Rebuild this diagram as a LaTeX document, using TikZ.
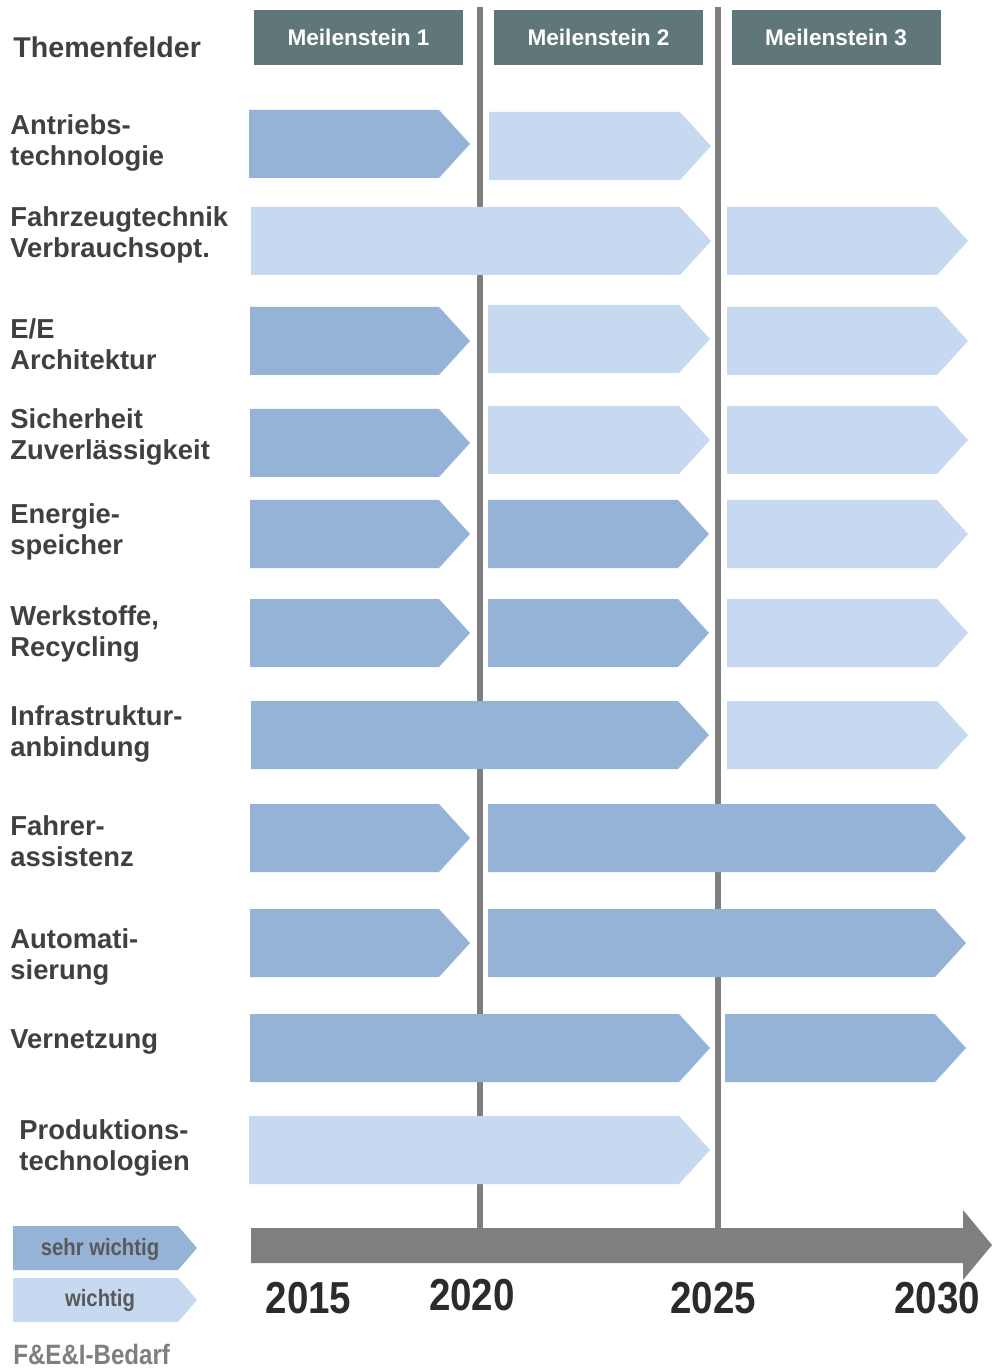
\documentclass[tikz,border=0pt]{standalone}
\usepackage{fontspec}
\setmainfont{Liberation Sans}
\newfontfamily\condfont[FakeStretch=0.86]{Liberation Sans}
\begin{document}
\begin{tikzpicture}[x=0.5pt,y=-0.5pt,
  labeltext/.style={anchor=base west,align=left,inner sep=0pt,text=labelgray,
    font=\fontsize{13.7}{15.5}\selectfont\bfseries},
  headbox/.style={fill=headgray,text=white,minimum width=104.5pt,minimum height=27.5pt,
    inner sep=0pt,font=\fontsize{11.3}{13}\selectfont\bfseries},
  yeartext/.style={anchor=base,inner sep=0pt,text=yeargray,
    font=\condfont\fontsize{22.4}{26}\selectfont\bfseries},
  legendtext/.style={inner sep=0pt,text=legendgray,
    font=\condfont\fontsize{11.8}{13}\selectfont\bfseries}]
\definecolor{darkblue}{HTML}{95B3D7}
\definecolor{lightblue}{HTML}{C6D9F0}
\definecolor{headgray}{HTML}{5F7778}
\definecolor{linegray}{HTML}{7F7F7F}
\definecolor{labelgray}{HTML}{404040}
\definecolor{yeargray}{HTML}{2B2B2B}
\definecolor{legendgray}{HTML}{595959}
\definecolor{footgray}{HTML}{7F7F7F}
% chevron: left, right (tip), top, bottom, colour
\newcommand\chevron[5]{%
  \fill[#5] (#1,#3) -- ({#2-31},#3) -- (#2,{(#3+#4)/2}) -- ({#2-31},#4) -- (#1,#4) -- cycle;}

% canvas
\fill[white] (0,0) rectangle (992,1368);

% milestone separators
\fill[linegray] (477,7) rectangle (483,1229);
\fill[linegray] (715,7) rectangle (721,1229);

% milestone headers
\node[headbox] (m1) at (358.5,37.5) {Meilenstein 1};
\node[headbox] (m2) at (598.5,37.5) {Meilenstein 2};
\node[headbox] (m3) at (836,37.5) {Meilenstein 3};

% column title
\node[anchor=base west,inner sep=0pt,text=labelgray,
  font=\fontsize{14.3}{16}\selectfont\bfseries] (title) at (13,58) {Themenfelder};

% topic labels (anchored at the baseline of the last line)
\node[labeltext] (t1)  at (10,166)  {Antriebs-\\technologie};
\node[labeltext] (t2)  at (10,258)  {Fahrzeugtechnik\\Verbrauchsopt.};
\node[labeltext] (t3)  at (10,370)  {E/E\\Architektur};
\node[labeltext] (t4)  at (10,460)  {Sicherheit\\Zuverlässigkeit};
\node[labeltext] (t5)  at (10,554)  {Energie-\\speicher};
\node[labeltext] (t6)  at (10,656)  {Werkstoffe,\\Recycling};
\node[labeltext] (t7)  at (10,756)  {Infrastruktur-\\anbindung};
\node[labeltext] (t8)  at (10,866)  {Fahrer-\\assistenz};
\node[labeltext] (t9)  at (10,979)  {Automati-\\sierung};
\node[labeltext] (t10) at (10,1048) {Vernetzung};
\node[labeltext] (t11) at (19,1170) {Produktions-\\technologien};

% roadmap chevrons
\chevron{249}{470}{110}{178}{darkblue}
\chevron{489}{711}{112}{180}{lightblue}

\chevron{251}{711}{207}{275}{lightblue}
\chevron{727}{968}{207}{275}{lightblue}

\chevron{250}{470}{307}{375}{darkblue}
\chevron{488}{710}{305}{373}{lightblue}
\chevron{727}{968}{307}{375}{lightblue}

\chevron{250}{470}{409}{477}{darkblue}
\chevron{488}{710}{406}{474}{lightblue}
\chevron{727}{968}{406}{474}{lightblue}

\chevron{250}{470}{500}{568}{darkblue}
\chevron{488}{709}{500}{568}{darkblue}
\chevron{727}{968}{500}{568}{lightblue}

\chevron{250}{470}{599}{667}{darkblue}
\chevron{488}{709}{599}{667}{darkblue}
\chevron{727}{968}{599}{667}{lightblue}

\chevron{251}{709}{701}{769}{darkblue}
\chevron{727}{968}{701}{769}{lightblue}

\chevron{250}{470}{804}{872}{darkblue}
\chevron{488}{966}{804}{872}{darkblue}

\chevron{250}{470}{909}{977}{darkblue}
\chevron{488}{966}{909}{977}{darkblue}

\chevron{250}{710}{1014}{1082}{darkblue}
\chevron{725}{966}{1014}{1082}{darkblue}

\chevron{249}{710}{1116}{1184}{lightblue}

% time axis
\fill[linegray] (251,1228) -- (963,1228) -- (963,1210) -- (992,1245)
  -- (963,1280) -- (963,1263) -- (251,1263) -- cycle;

% years
\node[yeartext] (y2015) at (308.5,1313) {2015};
\node[yeartext] (y2020) at (472,1310)   {2020};
\node[yeartext] (y2025) at (713,1313)   {2025};
\node[yeartext] (y2030) at (937,1313)   {2030};

% legend
\fill[darkblue] (13,1226) -- (178,1226) -- (197,1248) -- (178,1270) -- (13,1270) -- cycle;
\fill[lightblue] (13,1278) -- (178,1278) -- (197,1300) -- (178,1322) -- (13,1322) -- cycle;
\node[legendtext] (l1) at (100,1249) {sehr wichtig};
\node[legendtext] (l2) at (100,1300) {wichtig};

% footer
\node[anchor=base west,inner sep=0pt,text=footgray,
  font=\condfont\fontsize{14}{16}\selectfont\bfseries] (foot) at (13,1364) {F\&E\&I-Bedarf};
\end{tikzpicture}
\end{document}
